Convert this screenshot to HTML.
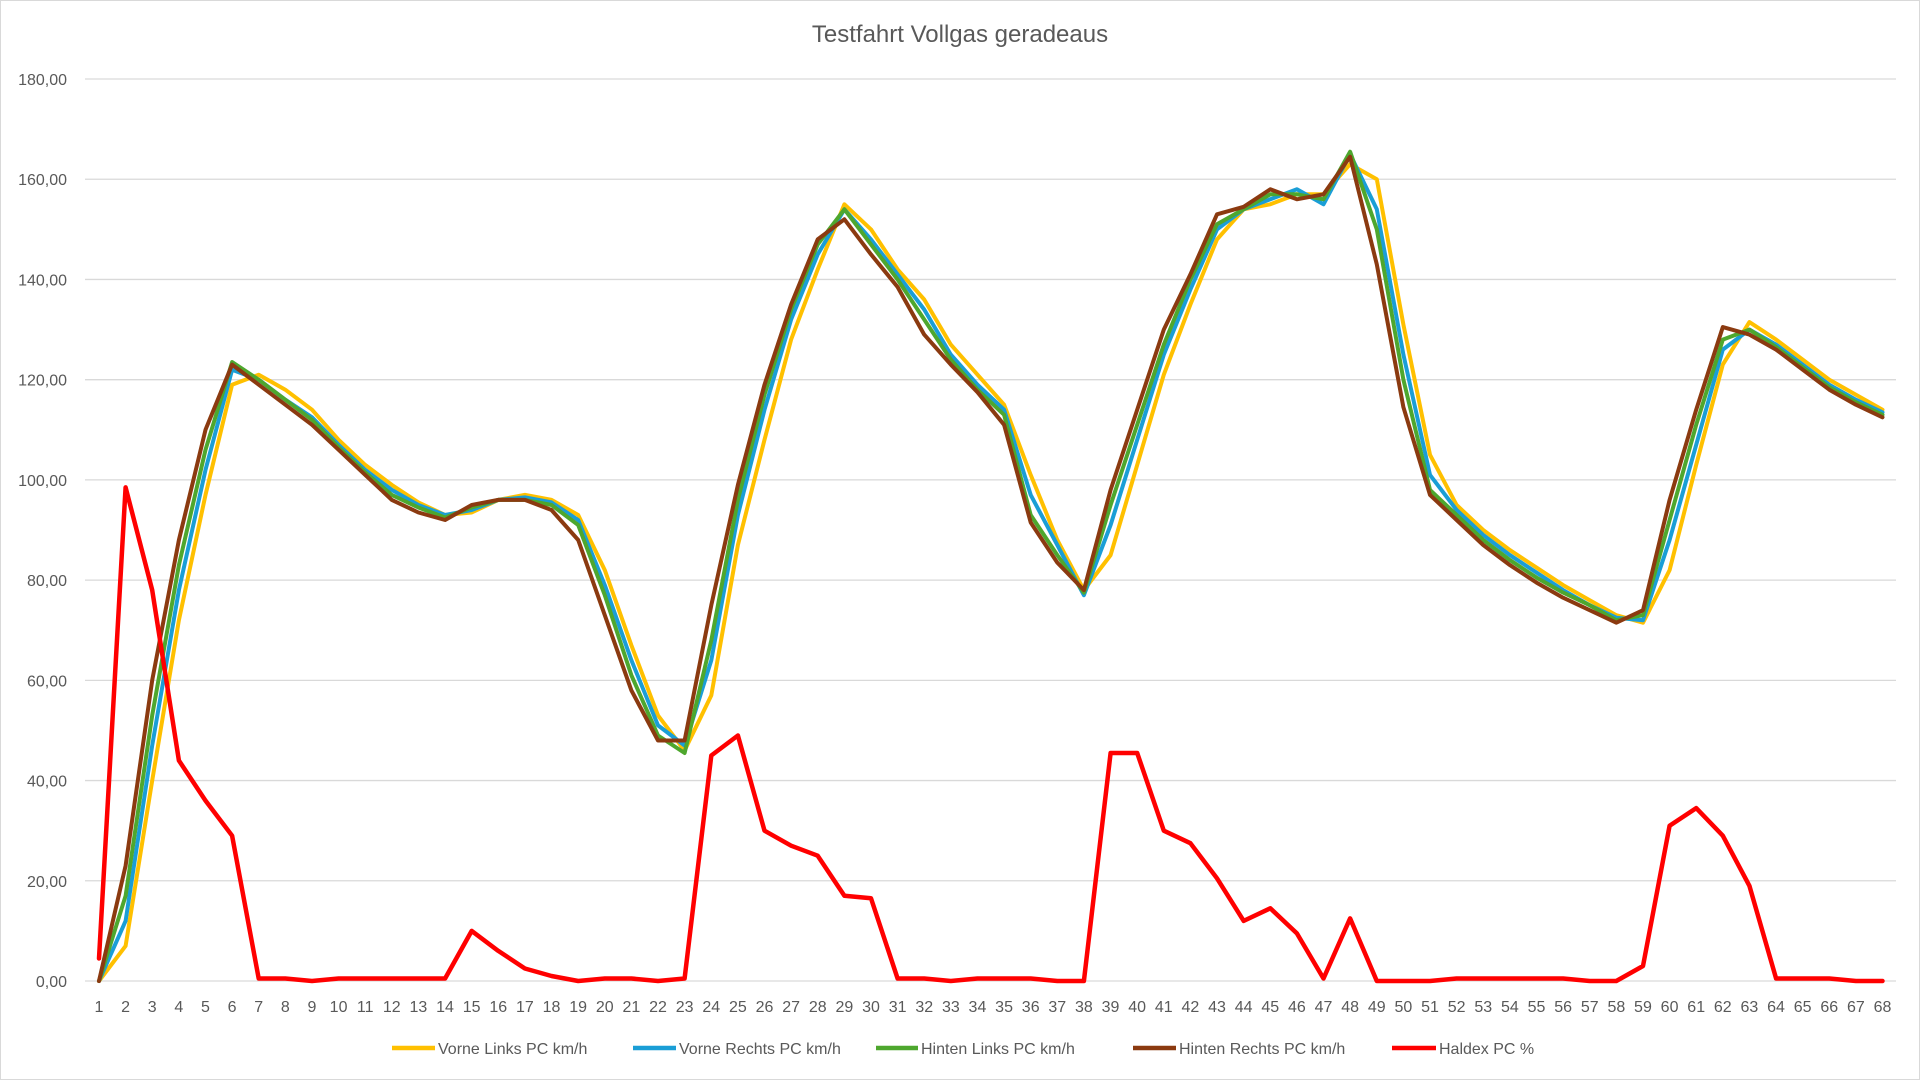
<!DOCTYPE html>
<html><head><meta charset="utf-8"><style>
html,body{margin:0;padding:0;background:#fff}
svg{display:block}
text{font-family:"Liberation Sans",sans-serif;fill:#595959}
</style></head><body>
<svg id="s" width="1920" height="1080" xmlns="http://www.w3.org/2000/svg">
<rect x="0.5" y="0.5" width="1919" height="1079" fill="#fff" stroke="#d9d9d9"/>
<text x="960" y="42" font-size="24" text-anchor="middle">Testfahrt Vollgas geradeaus</text>
<g id="grid"></g><g id="lines"></g><g id="xl"></g>
<g font-size="16">
<line x1="392" y1="1048" x2="435" y2="1048" stroke="#FFC000" stroke-width="4.5"/><text x="438" y="1054">Vorne Links PC km/h</text>
<line x1="633" y1="1048" x2="676" y2="1048" stroke="#1A9ED6" stroke-width="4.5"/><text x="679" y="1054">Vorne Rechts PC km/h</text>
<line x1="876" y1="1048" x2="918" y2="1048" stroke="#4EA72E" stroke-width="4.5"/><text x="921" y="1054">Hinten Links PC km/h</text>
<line x1="1133" y1="1048" x2="1176" y2="1048" stroke="#8B3A10" stroke-width="4.5"/><text x="1179" y="1054">Hinten Rechts PC km/h</text>
<line x1="1392" y1="1048" x2="1436" y2="1048" stroke="#FF0000" stroke-width="4.5"/><text x="1439" y="1054">Haldex PC %</text>
</g>
</svg>
<script>
var NS="http://www.w3.org/2000/svg";
function X(i){return 99+(i-1)*26.62;}
function Y(v){return 981-v*5.011;}
var g=document.getElementById('grid'),h='';
for(var v=0;v<=180;v+=20){var y=Y(v);h+='<line x1="85" y1="'+y+'" x2="1896" y2="'+y+'" stroke="#d9d9d9" stroke-width="1.3"/>';
h+='<text x="67" y="'+(y+6)+'" font-size="16" text-anchor="end">'+v+',00</text>';}
g.innerHTML=h;
var xl='';for(var i=1;i<=68;i++){xl+='<text x="'+X(i)+'" y="1012" font-size="16" text-anchor="middle">'+i+'</text>';}
document.getElementById('xl').innerHTML=xl;
var S=[
["#FFC000",[0,7,40,72,97,119,121,118,114,108,103,99,95.5,93,93.5,96,97,96,93,82,67,53,46,57,87,108,128,142,155,150,142,136,127,121,115,101,88,78,85,103,121,135,148,154,155,157,157,163,160,131,105,95,90,86,82.5,79,76,73,71.5,82,103,123,131.5,128,124,120,117,114]],
["#1A9ED6",[0,12,47,78,102,122,120,116,112.5,107,102,98,95,93,94,96,96.5,95.5,92,79,64,51,47,64,93,114,132,145,154,148,141,134,125,119,114,97,87,77,91,108,125,138,150,154,156,158,155,165,154,125,101,94,89,85,81.5,78,75,72.5,72,88,107,126,130,127,123,119,116,113.5]],
["#4EA72E",[0,17,53,83,106,123.5,120,116,112,106.5,101.5,97,94.5,92.5,94.5,96,96,95,91,77,61,49,45.5,68,96,117,134,147,154,147,140,132,124,118,113,93,85,77.5,95,111,127,140,151,154,157,157,156,165.5,150,120,98,93,88,84,80.5,77.5,75,72,73,92,111,128,130,126.5,122.5,118.5,115.5,113]],
["#8B3A10",[0,23,60,88,110,123,119,115,111,106,101,96,93.5,92,95,96,96,94,88,73,58,48,48,75,99,119,135,148,152,145,138.5,129,123,117.5,111,91.5,83.5,78,98,114,130,141,153,154.5,158,156,157,164.5,143,114.5,97,92,87,83,79.5,76.5,74,71.5,74,96,114,130.5,129,126,122,118,115,112.5]],
["#FF0000",[4.5,98.5,78,44,36,29,0.5,0.5,0,0.5,0.5,0.5,0.5,0.5,10,6,2.5,1,0,0.5,0.5,0,0.5,45,49,30,27,25,17,16.5,0.5,0.5,0,0.5,0.5,0.5,0,0,45.5,45.5,30,27.5,20.5,12,14.5,9.5,0.5,12.5,0,0,0,0.5,0.5,0.5,0.5,0.5,0,0,3,31,34.5,29,19,0.5,0.5,0.5,0,0]]
];
var L='';S.forEach(function(s){var p=s[1].map(function(v,i){return X(i+1).toFixed(1)+','+Y(v).toFixed(1)}).join(' ');
L+='<polyline points="'+p+'" fill="none" stroke="'+s[0]+'" stroke-width="'+(s[0]=="#FF0000"?4.5:4)+'" stroke-linejoin="round" stroke-linecap="round"/>';});
document.getElementById('lines').innerHTML=L;
</script>
</body></html>
